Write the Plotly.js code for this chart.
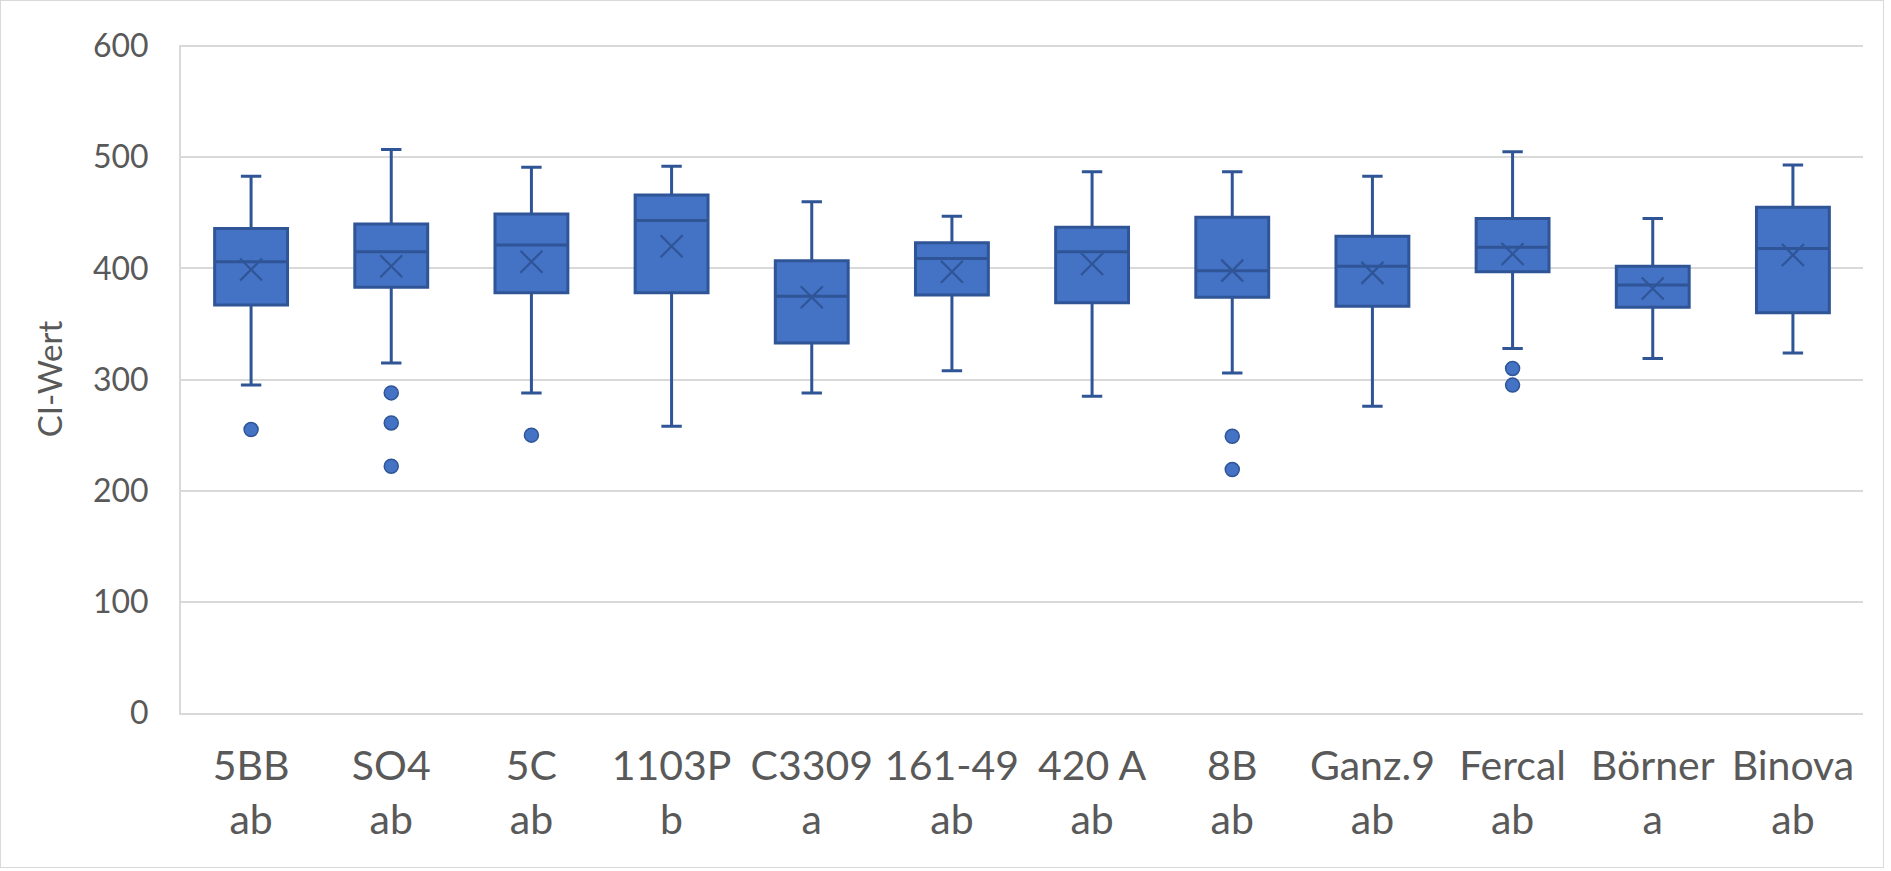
<!DOCTYPE html>
<html>
<head>
<meta charset="utf-8">
<script src="https://cdn.plot.ly/plotly-3.0.1.min.js"></script>
<style>
  html, body { margin: 0; padding: 0; background: #ffffff; }
  #wrap { position: relative; width: 1891px; height: 871px; }
  #chart { width: 1891px; height: 871px; }
  #frame { position: absolute; left: 0px; top: 0px; width: 1882px; height: 866px;
           border: 1.5px solid #d9d9d9; pointer-events: none; }
</style>
</head>
<body>
<div id="wrap">
  <div id="chart"></div>
  <div id="frame"></div>
</div>
<script>
// Rootstock names and significance letters
const categories = ['5BB', 'SO4', '5C', '1103P', 'C3309', '161-49', '420 A', '8B', 'Ganz.9', 'Fercal', 'Börner', 'Binova'];
const letters    = ['ab',  'ab',  'ab', 'b',     'a',     'ab',     'ab',    'ab', 'ab',     'ab',     'a',      'ab'];

// Box statistics (CI-Wert)
const lowerWhisker = [295, 315, 288, 258, 288, 308, 285, 306, 276, 328, 319, 324];
const q1Values     = [367, 383, 378, 378, 333, 376, 369, 374, 366, 397, 365, 360];
const medianValues = [406, 415, 421, 443, 375, 409, 415, 398, 402, 419, 385, 418];
const q3Values     = [436, 440, 449, 466, 407, 423, 437, 446, 429, 445, 402, 455];
const upperWhisker = [483, 507, 491, 492, 460, 447, 487, 487, 483, 505, 445, 493];
const meanValues   = [399, 402, 406, 420, 374, 397, 404, 398, 396, 413, 382, 412];

// Outliers (category index, value)
const outlierCategory = [0,   1,   1,   1,   2,   7,   7,   9,   9];
const outlierValues   = [255, 288, 261, 222, 250, 249, 219, 310, 295];

const tickLabels = categories.map((c, i) => c + '<br>' + letters[i]);

const fillColor = '#4472C4';
const lineColor = '#2F5597';
const textColor = '#595959';
const gridColor = '#d9d9d9';

const boxTrace = {
  type: 'box',
  x: tickLabels,
  lowerfence: lowerWhisker,
  q1: q1Values,
  median: medianValues,
  q3: q3Values,
  upperfence: upperWhisker,
  boxpoints: false,
  fillcolor: fillColor,
  line: { color: lineColor, width: 3 },
  whiskerwidth: 0.28,
  hoverinfo: 'skip',
  showlegend: false
};

const meanTrace = {
  type: 'scatter',
  mode: 'markers',
  x: tickLabels,
  y: meanValues,
  marker: { symbol: 'x-thin-open', size: 22, color: lineColor, line: { color: lineColor, width: 2.2 } },
  hoverinfo: 'skip',
  showlegend: false
};

const outlierTrace = {
  type: 'scatter',
  mode: 'markers',
  x: outlierCategory.map(i => tickLabels[i]),
  y: outlierValues,
  marker: { symbol: 'circle', size: 14, color: fillColor, line: { color: lineColor, width: 1.5 } },
  hoverinfo: 'skip',
  showlegend: false
};

const layout = {
  width: 1891,
  height: 871,
  margin: { l: 181, r: 28, t: 45, b: 158 },
  paper_bgcolor: '#ffffff',
  plot_bgcolor: '#ffffff',
  font: { family: 'Lato, "Open Sans", sans-serif', color: textColor, size: 32 },
  boxgap: 0.48,
  boxgroupgap: 0,
  xaxis: {
    type: 'category',
    categoryorder: 'array',
    categoryarray: tickLabels,
    range: [-0.5, 11.5],
    showgrid: false,
    showline: true,
    linecolor: gridColor,
    linewidth: 2,
    ticks: '',
    ticklabelstandoff: 16,
    tickfont: { size: 41, color: textColor },
    fixedrange: true
  },
  yaxis: {
    range: [0, 601],
    tickvals: [0, 100, 200, 300, 400, 500, 600],
    showgrid: true,
    gridcolor: gridColor,
    gridwidth: 2,
    zeroline: false,
    showline: true,
    linecolor: gridColor,
    linewidth: 2,
    ticks: '',
    ticklabelstandoff: 24,
    tickfont: { size: 32, color: textColor },
    title: { text: 'CI-Wert', font: { size: 33, color: textColor }, standoff: 20 },
    fixedrange: true
  }
};

Plotly.newPlot('chart', [boxTrace, meanTrace, outlierTrace], layout, { displayModeBar: false, staticPlot: true });
</script>
</body>
</html>
